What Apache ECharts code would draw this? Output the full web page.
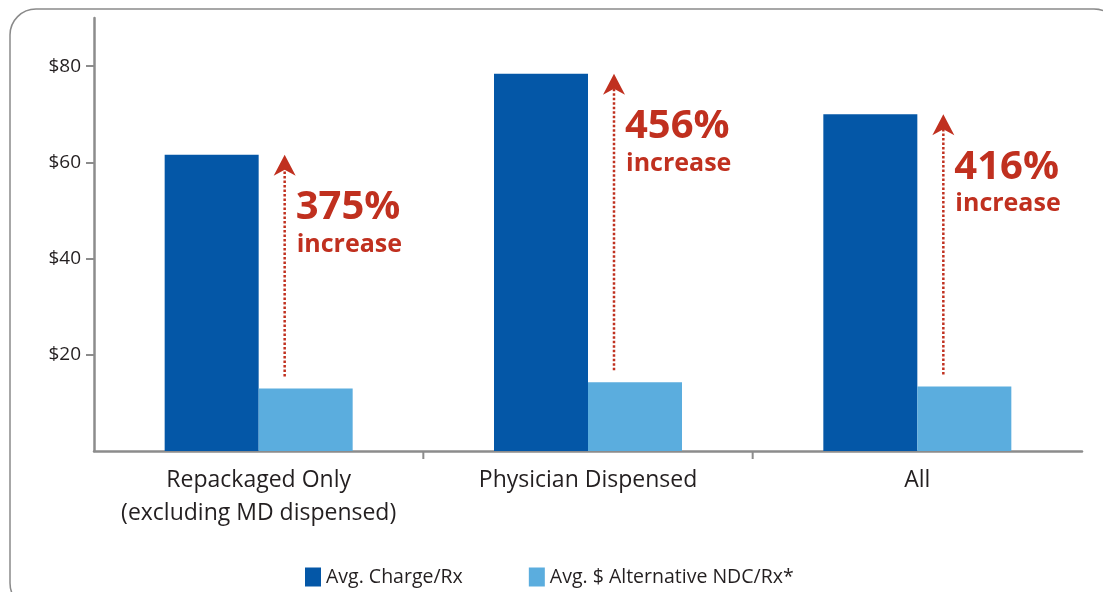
<!DOCTYPE html>
<html>
<head>
<meta charset="utf-8">
<script src="https://cdn.jsdelivr.net/npm/echarts@6/dist/echarts.min.js"></script>
<style>
html,body{margin:0;padding:0;background:#fff;}
#chart{width:1103px;height:592px;}
</style>
</head>
<body>
<div id="chart"></div>
<script>
const categories = ['Repackaged Only\n(excluding MD dispensed)', 'Physician Dispensed', 'All'];
const avgCharge = [61.6, 78.4, 70.0];
const altNdc = [13.0, 14.3, 13.4];
const increaseLabels = ['375%', '456%', '416%'];
const yTickValues = [20, 40, 60, 80];
const seriesNames = ['Avg. Charge/Rx', 'Avg. $ Alternative NDC/Rx*'];

const DARK = '#0457a7';
const LIGHT = '#5badde';
const RED = '#c0301f';
const AXIS = '#8c8c8c';
const FONT = '"Open Sans", "Noto Sans", sans-serif';

const chart = echarts.init(document.getElementById('chart'), null, {renderer: 'canvas'});

function renderArrow(params, api) {
  const i = api.value(0);
  const top = api.coord([i, api.value(1)]);
  const base = api.coord([i, api.value(2)]);
  const zero = api.coord([i, 0]);
  const band = api.size([1, 0])[0];
  const ax = zero[0] + 26;
  const tipY = top[1];
  const children = [
    {type: 'line', shape: {x1: ax, y1: base[1] - 12, x2: ax, y2: tipY + 14},
     style: {stroke: RED, lineWidth: 2.5, lineDash: [2.5, 2]}},
    {type: 'polygon', shape: {points: [[ax, tipY], [ax - 11, tipY + 21], [ax, tipY + 15], [ax + 11, tipY + 21]]},
     style: {fill: RED}},
    {type: 'text', style: {text: increaseLabels[params.dataIndex], x: ax + 11, y: tipY + 53,
      font: 'bold 40px ' + FONT, fill: RED, verticalAlign: 'middle', align: 'left'}},
    {type: 'text', style: {text: 'increase', x: ax + 12, y: tipY + 90,
      font: 'bold 25px ' + FONT, fill: RED, verticalAlign: 'middle', align: 'left'}}
  ];
  if (i > 0) {
    children.push({type: 'line', shape: {x1: zero[0] - band / 2, y1: zero[1], x2: zero[0] - band / 2, y2: zero[1] + 8},
      style: {stroke: AXIS, lineWidth: 2}});
  }
  return {type: 'group', children: children};
}

const option = {
  animation: false,
  graphic: [{
    type: 'rect', z: -10, silent: true,
    shape: {x: 10, y: 9, width: 1110, height: 600, r: 26},
    style: {fill: 'none', stroke: '#8a8a8a', lineWidth: 1.5}
  }],
  grid: {left: 94, right: 21, top: 18, bottom: 141, containLabel: false},
  legend: {
    data: seriesNames,
    left: 300, top: 562,
    itemWidth: 16, itemHeight: 19, itemGap: 66,
    icon: 'rect',
    textStyle: {fontSize: 19.5, color: '#231f20', fontFamily: FONT}
  },
  xAxis: {
    type: 'category',
    data: categories,
    axisLine: {lineStyle: {color: AXIS, width: 2.5}},
    axisTick: {show: false},
    axisLabel: {interval: 0, hideOverlap: false, fontSize: 23, color: '#231f20', fontFamily: FONT, lineHeight: 33, margin: 13}
  },
  yAxis: {
    type: 'value',
    min: 0, max: 90,
    axisLine: {show: true, lineStyle: {color: AXIS, width: 2.5}},
    axisTick: {show: true, length: 8, customValues: yTickValues, lineStyle: {color: AXIS, width: 2}},
    splitLine: {show: false},
    axisLabel: {customValues: yTickValues, formatter: v => '$' + v, fontSize: 19, color: '#231f20', fontFamily: FONT, margin: 13}
  },
  series: [
    {name: seriesNames[0], type: 'bar', data: avgCharge, barWidth: 94, barGap: '0%', itemStyle: {color: DARK}},
    {name: seriesNames[1], type: 'bar', data: altNdc, barWidth: 94, itemStyle: {color: LIGHT}},
    {type: 'custom', z: 10, renderItem: renderArrow, silent: true,
     data: categories.map((c, i) => [i, avgCharge[i], altNdc[i]]),
     encode: {x: 0, y: [1, 2]}}
  ]
};
chart.setOption(option);
</script>
</body>
</html>
